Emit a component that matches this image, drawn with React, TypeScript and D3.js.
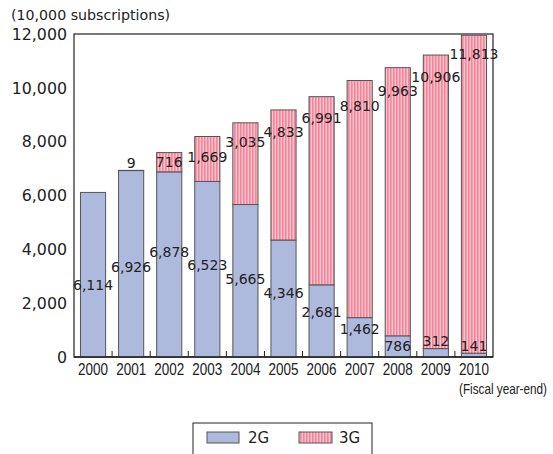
import * as d3 from 'd3';

// fiscal year-end subscriptions, 10,000 units
const years = ['2000', '2001', '2002', '2003', '2004', '2005', '2006', '2007', '2008', '2009', '2010'];
const values2G = [6114, 6926, 6878, 6523, 5665, 4346, 2681, 1462, 786, 312, 141];
const values3G = [0, 9, 716, 1669, 3035, 4833, 6991, 8810, 9963, 10906, 11813];
const yTicks = [0, 2000, 4000, 6000, 8000, 10000, 12000];

// where the value labels sit, in data units (hand placed in the original)
const labelAt2G = [2675, 3344, 3901, 3418, 2898, 2378, 1672, 1040, 409, 594, 409];
const labelAt3G = [null, 7207, 7244, 7430, 7988, 8359, 8879, 9325, 9882, 10402, 11257];

const W = 553;
const H = 454;
const left = 74;
const right = 493;
const top = 34;
const bottom = 357;

const COLOR_2G = '#adbade';
const STRIPE_DARK = '#f3849a';
const STRIPE_LIGHT = '#fcc4cc';
const BAR_STROKE = '#555';

const font = '"DejaVu Sans", sans-serif';
const narrow = '"Liberation Sans", Arial, sans-serif';
const fmt = d3.format(',');

export default function App() {
  const x = d3.scaleBand().domain(years).range([left, right]).paddingInner(0.34).paddingOuter(0.17);
  const y = d3.scaleLinear().domain([0, 12000]).range([bottom, top]);
  const step = x.step();
  const bw = x.bandwidth();

  const stacked = years.map((yr, i) => ({
    yr,
    g2: values2G[i],
    g3: values3G[i],
  }));

  return (
    <svg width={W} height={H} style={{ position: 'absolute', left: 0, top: 0, background: '#fff' }}>
      <defs>
        <pattern id="stripes" width={3} height={10} patternUnits="userSpaceOnUse">
          <rect x={0} y={0} width={3} height={10} fill={STRIPE_LIGHT} />
          <rect x={0} y={0} width={1.6} height={10} fill={STRIPE_DARK} />
        </pattern>
      </defs>

      <text x={11} y={20} fontFamily={font} fontSize={14.2} fill="#222">(10,000 subscriptions)</text>

      {/* plot frame */}
      <rect x={left} y={top} width={right - left} height={bottom - top} fill="none" stroke="#222" strokeWidth={1.2} />

      {/* y tick labels */}
      {yTicks.map((t) => (
        <text key={t} x={67} y={y(t)} dy="0.36em" textAnchor="end" fontFamily={font} fontSize={15.8} fill="#222">
          {fmt(t)}
        </text>
      ))}

      {/* bars */}
      {stacked.map((d) => {
        const x0 = x(d.yr)!;
        return (
          <g key={d.yr}>
            <rect x={x0} y={y(d.g2)} width={bw} height={y(0) - y(d.g2)} fill={COLOR_2G} stroke={BAR_STROKE} strokeWidth={1} />
            {d.g3 > 0 && (
              <rect
                x={x0}
                y={y(d.g2 + d.g3)}
                width={bw}
                height={y(d.g2) - y(d.g2 + d.g3)}
                fill="url(#stripes)"
                stroke={BAR_STROKE}
                strokeWidth={1}
              />
            )}
          </g>
        );
      })}

      {/* x axis line + small inner ticks between bars */}
      <line x1={left} x2={right} y1={bottom} y2={bottom} stroke="#222" strokeWidth={1.4} />
      {years.slice(1).map((yr) => {
        const bx = x(yr)! - (step - bw) / 2;
        return <line key={yr} x1={bx} x2={bx} y1={bottom} y2={bottom - 6} stroke="#222" strokeWidth={1} />;
      })}

      {/* year labels, condensed */}
      {years.map((yr) => (
        <text
          key={yr}
          x={x(yr)! + bw / 2}
          y={375}
          textAnchor="middle"
          fontFamily={narrow}
          fontSize={16}
          textLength={30}
          lengthAdjust="spacingAndGlyphs"
          fill="#222"
        >
          {yr}
        </text>
      ))}
      <text x={459} y={394} fontFamily={narrow} fontSize={14} textLength={88} lengthAdjust="spacingAndGlyphs" fill="#222">
        (Fiscal year-end)
      </text>

      {/* value labels */}
      {years.map((yr, i) => (
        <text key={'l2' + yr} x={x(yr)! + bw / 2} y={y(labelAt2G[i])} dy="0.36em" textAnchor="middle" fontFamily={font} fontSize={14} fill="#222">
          {fmt(values2G[i])}
        </text>
      ))}
      {years.map((yr, i) =>
        labelAt3G[i] == null ? null : (
          <text key={'l3' + yr} x={x(yr)! + bw / 2} y={y(labelAt3G[i]!)} dy="0.36em" textAnchor="middle" fontFamily={font} fontSize={14} fill="#222">
            {fmt(values3G[i])}
          </text>
        )
      )}

      {/* legend */}
      <rect x={193} y={423} width={179} height={40} fill="#fff" stroke="#222" strokeWidth={1} />
      <rect x={207} y={432} width={32} height={11} fill={COLOR_2G} stroke={BAR_STROKE} strokeWidth={1} />
      <text x={248} y={443} fontFamily={font} fontSize={15} fill="#222">2G</text>
      <rect x={299} y={432} width={33} height={11} fill="url(#stripes)" stroke={BAR_STROKE} strokeWidth={1} />
      <text x={339} y={443} fontFamily={font} fontSize={15} fill="#222">3G</text>
    </svg>
  );
}
